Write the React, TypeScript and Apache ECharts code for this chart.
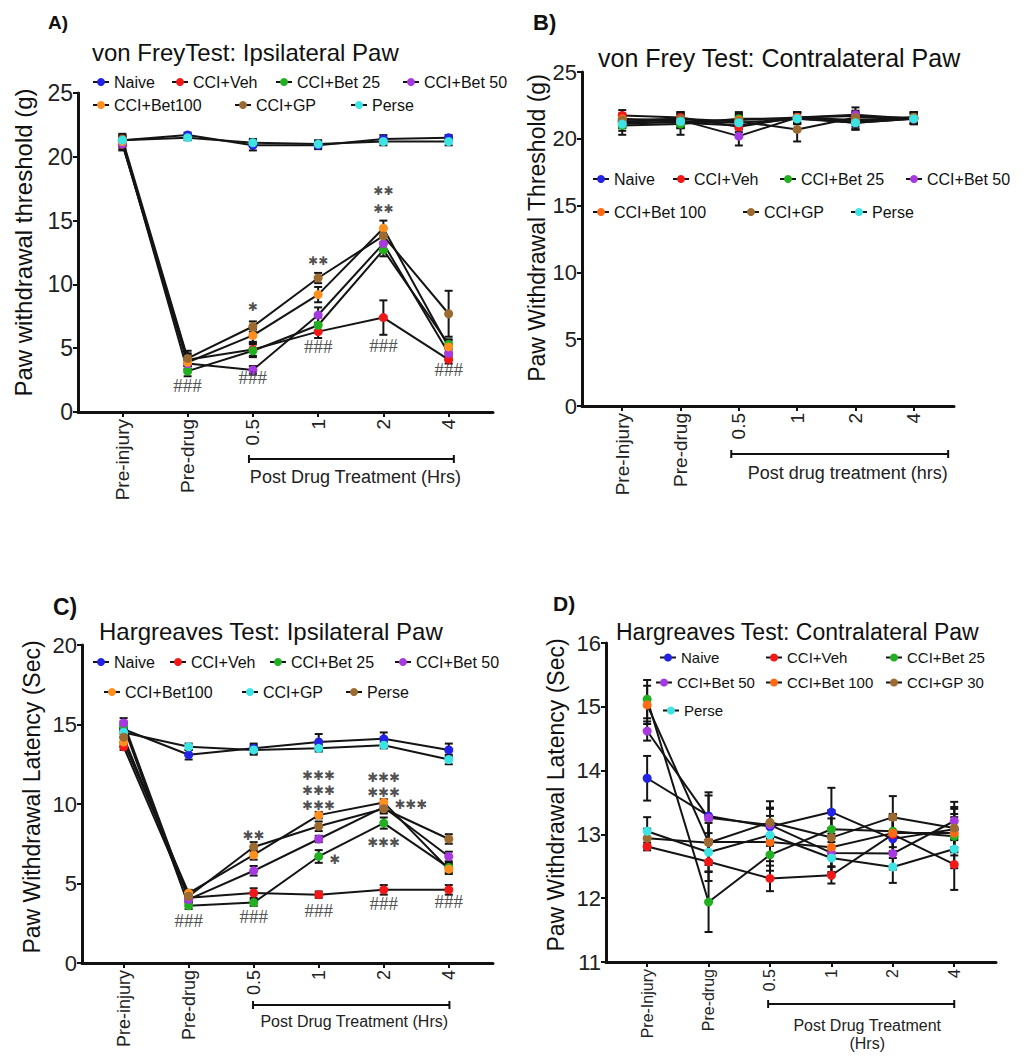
import React, { useEffect, useRef } from 'react';
import * as echarts from 'echarts';

const SANS = '"Liberation Sans", Arial, Helvetica, sans-serif';
const SERIF = '"Liberation Serif", "Times New Roman", serif';
const STAR_FONT = '"DejaVu Sans", sans-serif';

// ---------- categories / tick labels ----------
const X_LABELS_A = ['Pre-injury', 'Pre-drug', '0.5', '1', '2', '4'];
const X_LABELS_B = ['Pre-Injury', 'Pre-drug', '0.5', '1', '2', '4'];
const X_LABELS_C = ['Pre-injury', 'Pre-drug', '0.5', '1', '2', '4'];
const X_LABELS_D = ['Pre-Injury', 'Pre-drug', '0.5', '1', '2', '4'];
// time points are placed at positions 1..6 on the x axis
const X_POS = [1, 2, 3, 4, 5, 6];

// ---------- group names ----------
const NAMES_A = ['Naive', 'CCI+Veh', 'CCI+Bet 25', 'CCI+Bet 50', 'CCI+Bet100', 'CCI+GP', 'Perse'];
const NAMES_B = ['Naive', 'CCI+Veh', 'CCI+Bet 25', 'CCI+Bet 50', 'CCI+Bet 100', 'CCI+GP', 'Perse'];
const NAMES_C = ['Naive', 'CCI+Veh', 'CCI+Bet 25', 'CCI+Bet 50', 'CCI+Bet100', 'CCI+GP', 'Perse'];
const NAMES_D = ['Naive', 'CCI+Veh', 'CCI+Bet 25', 'CCI+Bet 50', 'CCI+Bet 100', 'CCI+GP 30', 'Perse'];

const BLUE = '#2323e6';
const RED = '#f21818';
const GREEN = '#22b022';
const PURPLE = '#a63ae0';
const ORANGE = '#ff8f1f';
const ORANGE_D = '#ff6a14';
const BROWN = '#9c6b32';
const CYAN = '#3ee3e3';

const COLORS_A = [BLUE, RED, GREEN, PURPLE, ORANGE, BROWN, CYAN];
const COLORS_B = [BLUE, RED, GREEN, PURPLE, ORANGE_D, BROWN, CYAN];
const COLORS_C = [BLUE, RED, GREEN, PURPLE, ORANGE, CYAN, BROWN];
const COLORS_D = [BLUE, RED, GREEN, PURPLE, ORANGE_D, BROWN, CYAN];

// ---------- A: von Frey ipsilateral ----------
const A_NAIVE = [21.3, 21.7, 20.9, 20.9, 21.4, 21.5];
const A_VEH = [21.0, 4.1, 4.9, 6.3, 7.4, 4.1];
const A_BET25 = [21.2, 3.2, 4.8, 6.8, 12.7, 5.3];
const A_BET50 = [21.0, 3.8, 3.3, 7.6, 13.2, 4.6];
const A_BET100 = [21.2, 3.9, 6.0, 9.2, 14.4, 5.1];
const A_GP = [21.4, 4.2, 6.7, 10.5, 13.8, 7.7];
const A_PERSE = [21.3, 21.5, 21.1, 21.0, 21.2, 21.2];
const A_ERR_NAIVE = [0.4, 0.2, 0.4, 0.3, 0.3, 0.2];
const A_ERR_VEH = [0.5, 0.5, 0.5, 0.5, 1.35, 0.3];
const A_ERR_BET25 = [0.4, 0.4, 0.5, 0.6, 0.5, 0.4];
const A_ERR_BET50 = [0.4, 0.4, 0.3, 0.6, 0.5, 0.4];
const A_ERR_BET100 = [0.4, 0.6, 0.5, 0.6, 0.6, 0.5];
const A_ERR_GP = [0.4, 0.6, 0.4, 0.4, 0.6, 1.8];
const A_ERR_PERSE = [0.3, 0.2, 0.3, 0.3, 0.3, 0.3];
// [time-point index (0 = Pre-injury), y (centre of the stack), text]
const A_STARS = [[2, 8.25, '✱'], [3, 11.8, '✱✱'], [4, 16.65, '✱✱\n✱✱']];
const A_HASHES = [[1, 2.05], [2, 2.7], [3, 5.1], [4, 5.25], [5, 3.3]];

// ---------- B: von Frey contralateral ----------
const B_NAIVE = [21.25, 21.2, 21.0, 21.55, 21.2, 21.5];
const B_VEH = [21.75, 21.6, 20.9, 21.6, 21.7, 21.5];
const B_BET25 = [21.0, 21.1, 21.5, 21.5, 21.3, 21.6];
const B_BET50 = [21.3, 21.4, 20.2, 21.6, 21.8, 21.5];
const B_BET100 = [21.5, 21.3, 21.4, 21.6, 21.4, 21.6];
const B_GP = [21.4, 21.5, 21.3, 20.7, 21.6, 21.6];
const B_PERSE = [21.1, 21.3, 21.2, 21.5, 21.2, 21.5];
const B_ERR_NAIVE = [0.4, 0.4, 0.5, 0.4, 0.5, 0.4];
const B_ERR_VEH = [0.4, 0.4, 0.6, 0.4, 0.4, 0.4];
const B_ERR_BET25 = [0.7, 0.8, 0.5, 0.4, 0.6, 0.4];
const B_ERR_BET50 = [0.5, 0.5, 0.7, 0.4, 0.55, 0.4];
const B_ERR_BET100 = [0.4, 0.5, 0.5, 0.4, 0.5, 0.4];
const B_ERR_GP = [0.4, 0.5, 0.5, 0.9, 0.4, 0.4];
const B_ERR_PERSE = [0.5, 0.5, 0.5, 0.4, 0.5, 0.4];

// ---------- C: Hargreaves ipsilateral ----------
const C_NAIVE = [14.7, 13.1, 13.5, 13.9, 14.1, 13.4];
const C_VEH = [13.6, 4.1, 4.4, 4.3, 4.6, 4.6];
const C_BET25 = [14.9, 3.6, 3.8, 6.7, 8.8, 6.0];
const C_BET50 = [15.1, 4.0, 5.8, 7.8, 9.8, 6.7];
const C_BET100 = [13.9, 4.4, 6.8, 9.3, 10.1, 5.9];
const C_GP = [14.5, 13.6, 13.4, 13.5, 13.7, 12.8];
const C_PERSE = [14.2, 4.2, 7.3, 8.6, 9.7, 7.8];
const C_ERR_NAIVE = [0.3, 0.3, 0.3, 0.5, 0.4, 0.4];
const C_ERR_VEH = [0.2, 0.2, 0.3, 0.2, 0.3, 0.3];
const C_ERR_BET25 = [0.3, 0.2, 0.2, 0.4, 0.35, 0.3];
const C_ERR_BET50 = [0.3, 0.2, 0.3, 0.2, 0.3, 0.3];
const C_ERR_BET100 = [0.3, 0.2, 0.3, 0.2, 0.2, 0.3];
const C_ERR_GP = [0.3, 0.2, 0.3, 0.2, 0.2, 0.3];
const C_ERR_PERSE = [0.3, 0.2, 0.3, 0.3, 0.3, 0.3];
const C_STARS = [
  [2, 8.05, '✱✱'], [3, 10.88, '✱✱✱\n✱✱✱\n✱✱✱'], [4, 11.22, '✱✱✱\n✱✱✱'],
  [4.42, 9.95, '✱✱✱'], [4, 7.6, '✱✱✱'], [3.25, 6.5, '✱'],
];
const C_HASHES = [[1, 2.7], [2, 2.9], [3, 3.33], [4, 3.77], [5, 3.84]];

// ---------- D: Hargreaves contralateral ----------
const D_NAIVE = [13.88, 13.29, 13.12, 13.35, 12.93, 13.08];
const D_VEH = [12.81, 12.57, 12.31, 12.36, 13.0, 12.53];
const D_BET25 = [15.12, 11.94, 12.68, 13.08, 13.05, 12.97];
const D_BET50 = [14.62, 13.26, 13.15, 12.71, 12.7, 13.21];
const D_BET100 = [15.03, 12.88, 12.88, 12.8, 13.02, 13.02];
const D_GP30 = [12.94, 12.87, 13.19, 12.95, 13.27, 13.1];
const D_PERSE = [13.05, 12.72, 12.99, 12.63, 12.49, 12.77];
const D_ERR_NAIVE = [0.35, 0.37, 0.3, 0.38, 0.3, 0.35];
const D_ERR_VEH = [0.06, 0.3, 0.2, 0.13, 0.3, 0.4];
const D_ERR_BET25 = [0.3, 0.47, 0.25, 0.3, 0.25, 0.3];
const D_ERR_BET50 = [0.15, 0.35, 0.25, 0.3, 0.25, 0.3];
const D_ERR_BET100 = [0.3, 0.3, 0.3, 0.3, 0.3, 0.3];
const D_ERR_GP30 = [0.15, 0.35, 0.33, 0.3, 0.33, 0.3];
const D_ERR_PERSE = [0.22, 0.3, 0.3, 0.25, 0.25, 0.3];

const PANELS = [
  {
    key: 'A', names: NAMES_A, colors: COLORS_A, xLabels: X_LABELS_A,
    means: [A_NAIVE, A_VEH, A_BET25, A_BET50, A_BET100, A_GP, A_PERSE],
    errs: [A_ERR_NAIVE, A_ERR_VEH, A_ERR_BET25, A_ERR_BET50, A_ERR_BET100, A_ERR_GP, A_ERR_PERSE],
    grid: { left: 78, top: 93, width: 415, height: 319 }, pad: [0.68, 0.68],
    yMin: 0, yMax: 25, yInt: 5, yLabelSize: 23, xLabelSize: 19,
    yName: 'Paw withdrawal threshold (g)', yNameSize: 24, yNameGap: 43, yNameShift: 20,
    legendFont: 16,
    legendPos: [[92, 74], [171, 74], [275, 74], [402, 74], [92, 97], [234, 97], [350, 97]],
    stars: A_STARS, hashes: A_HASHES, starSize: 12, starLine: 18, hashSize: 19,
    label: { text: 'A)', x: 48, y: 22, size: 19 },
    title: { text: 'von FreyTest: Ipsilateral Paw', x: 92, y: 52, size: 24 },
    bracket: { from: 2.94, to: 6.08, drop: 47, size: 18, texts: [{ t: 'Post Drug Treatment (Hrs)', dx: 4, dy: 18 }] },
  },
  {
    key: 'B', names: NAMES_B, colors: COLORS_B, xLabels: X_LABELS_B,
    means: [B_NAIVE, B_VEH, B_BET25, B_BET50, B_BET100, B_GP, B_PERSE],
    errs: [B_ERR_NAIVE, B_ERR_VEH, B_ERR_BET25, B_ERR_BET50, B_ERR_BET100, B_ERR_GP, B_ERR_PERSE],
    grid: { left: 582, top: 72, width: 372, height: 334 }, pad: [0.69, 0.69],
    yMin: 0, yMax: 25, yInt: 5, yLabelSize: 22, xLabelSize: 19,
    yName: 'Paw Withdrawal Threshold (g)', yNameSize: 23, yNameGap: 32, yNameShift: 22,
    legendFont: 16,
    legendPos: [[592, 171], [672, 171], [779, 171], [905, 171], [592, 204], [742, 204], [850, 204]],
    stars: [], hashes: [], starSize: 12, starLine: 18, hashSize: 19,
    label: { text: 'B)', x: 533, y: 22, size: 22 },
    title: { text: 'von Frey Test: Contralateral Paw', x: 598, y: 58, size: 25 },
    bracket: { from: 2.87, to: 6.59, drop: 48, size: 18, texts: [{ t: 'Post drug treatment (hrs)', dx: 8, dy: 19 }] },
  },
  {
    key: 'C', names: NAMES_C, colors: COLORS_C, xLabels: X_LABELS_C,
    means: [C_NAIVE, C_VEH, C_BET25, C_BET50, C_BET100, C_GP, C_PERSE],
    errs: [C_ERR_NAIVE, C_ERR_VEH, C_ERR_BET25, C_ERR_BET50, C_ERR_BET100, C_ERR_GP, C_ERR_PERSE],
    grid: { left: 82, top: 645, width: 411, height: 318 }, pad: [0.64, 0.68],
    yMin: 0, yMax: 20, yInt: 5, yLabelSize: 22, xLabelSize: 18,
    yName: 'Paw Withdrawal Latency (Sec)', yNameSize: 23, yNameGap: 39, yNameShift: 14,
    legendFont: 16,
    legendPos: [[92, 654], [169, 654], [269, 654], [394, 654], [103, 684], [241, 684], [345, 684]],
    stars: C_STARS, hashes: C_HASHES, starSize: 13, starLine: 15, hashSize: 19,
    label: { text: 'C)', x: 53, y: 607, size: 23 },
    title: { text: 'Hargreaves Test: Ipsilateral Paw', x: 99, y: 631, size: 24 },
    bracket: { from: 2.99, to: 6.01, drop: 42, size: 16, texts: [{ t: 'Post Drug Treatment (Hrs)', dx: 3, dy: 16 }] },
  },
  {
    key: 'D', names: NAMES_D, colors: COLORS_D, xLabels: X_LABELS_D,
    means: [D_NAIVE, D_VEH, D_BET25, D_BET50, D_BET100, D_GP30, D_PERSE],
    errs: [D_ERR_NAIVE, D_ERR_VEH, D_ERR_BET25, D_ERR_BET50, D_ERR_BET100, D_ERR_GP30, D_ERR_PERSE],
    grid: { left: 606, top: 643, width: 390, height: 319 }, pad: [0.67, 0.68],
    yMin: 11, yMax: 16, yInt: 1, yLabelSize: 22, xLabelSize: 16,
    yName: 'Paw Withdrawal Latency (Sec)', yNameSize: 23, yNameGap: 39, yNameShift: 15,
    legendFont: 15,
    legendPos: [[659, 650], [765, 650], [885, 650], [655, 675], [765, 675], [885, 675], [662, 703]],
    stars: [], hashes: [], starSize: 12, starLine: 18, hashSize: 19,
    label: { text: 'D)', x: 553, y: 603, size: 21 },
    title: { text: 'Hargreaves Test: Contralateral Paw', x: 616, y: 632, size: 23 },
    bracket: { from: 2.97, to: 6.0, drop: 42, size: 16, texts: [{ t: 'Post Drug Treatment', dx: 6, dy: 21 }, { t: '(Hrs)', dx: 6, dy: 39 }] },
  },
];

function makeBracketRender(b: any) {
  return (params: any, api: any) => {
    const a = api.coord([api.value(0), api.value(2)]);
    const c = api.coord([api.value(1), api.value(2)]);
    const y = a[1] + b.drop;
    const mid = (a[0] + c[0]) / 2;
    const children: any[] = [
      { type: 'line', shape: { x1: a[0], y1: y, x2: c[0], y2: y }, style: { stroke: '#111', lineWidth: 2 } },
      { type: 'line', shape: { x1: a[0], y1: y - 4, x2: a[0], y2: y + 4 }, style: { stroke: '#111', lineWidth: 2 } },
      { type: 'line', shape: { x1: c[0], y1: y - 4, x2: c[0], y2: y + 4 }, style: { stroke: '#111', lineWidth: 2 } },
    ];
    b.texts.forEach((t: any) => {
      children.push({
        type: 'text', x: mid + t.dx, y: y + t.dy,
        style: { text: t.t, fontSize: b.size, fontFamily: SANS, fill: '#222', align: 'center', verticalAlign: 'middle' },
      });
    });
    return { type: 'group', children };
  };
}

function headText(t: any, bold: boolean) {
  const lh = Math.round(t.size * 1.2);
  return {
    text: t.text, left: t.x, top: Math.round(t.y - lh / 2), padding: 0,
    textStyle: { fontSize: t.size, fontWeight: bold ? 'bold' : 'normal', fontFamily: SANS, color: '#111', lineHeight: lh },
  };
}

function buildPanelOption(p: any) {
  const x0 = X_POS[0];
  const xN = X_POS[X_POS.length - 1];
  const labels = p.xLabels;
  const series: any[] = [];
  const legend: any[] = [];

  p.names.forEach((n: string, g: number) => {
    // error bars: one short vertical segment per mean, with flat caps
    p.means[g].forEach((v: number, i: number) => {
      const e = p.errs[g][i];
      series.push({
        type: 'line', data: [[X_POS[i], v - e], [X_POS[i], v + e]],
        symbol: 'rect', symbolSize: [8, 2], silent: true, legendHoverLink: false,
        lineStyle: { color: '#141414', width: 2 }, itemStyle: { color: '#141414' }, z: 2,
      });
    });
  });
  p.names.forEach((n: string, g: number) => {
    series.push({
      type: 'line', name: n, data: p.means[g].map((v: number, i: number) => [X_POS[i], v]),
      symbol: 'circle', symbolSize: 9, silent: true,
      lineStyle: { color: '#141414', width: 2 }, itemStyle: { color: p.colors[g] }, z: 3,
    });
    legend.push({
      data: [n], left: p.legendPos[g][0], top: p.legendPos[g][1],
      padding: 0, itemWidth: 16, itemHeight: 10, selectedMode: false,
      textStyle: { fontSize: p.legendFont, fontFamily: SANS, color: '#111' },
    });
  });
  series.push({
    type: 'custom', renderItem: makeBracketRender(p.bracket), clip: false,
    data: [[p.bracket.from, p.bracket.to, p.yMin]], encode: { x: [0, 1], y: 2 }, z: 1, silent: true,
  });
  if (p.stars.length) {
    series.push({
      type: 'scatter', symbolSize: 0, silent: true, z: 5,
      data: p.stars.map((s: any) => ({ name: s[2], value: [s[0] + x0, s[1]] })),
      label: {
        show: true, position: 'inside', formatter: '{b}',
        fontSize: p.starSize, lineHeight: p.starLine, fontFamily: STAR_FONT, color: '#222',
      },
    });
  }
  if (p.hashes.length) {
    series.push({
      type: 'scatter', symbolSize: 0, silent: true, z: 5,
      data: p.hashes.map((h: any) => ({ name: '###', value: [h[0] + x0, h[1]] })),
      label: {
        show: true, position: 'inside', formatter: '{b}',
        fontSize: p.hashSize, fontFamily: SERIF, color: '#222',
      },
    });
  }

  return {
    animation: false,
    title: [headText(p.label, true), headText(p.title, false)],
    grid: { ...p.grid },
    xAxis: {
      type: 'value', min: x0 - p.pad[0], max: xN + p.pad[1],
      axisLine: { show: true, onZero: false, lineStyle: { color: '#111', width: 3 } },
      axisTick: { show: true, customValues: X_POS, length: 5, lineStyle: { color: '#111', width: 2 } },
      axisLabel: {
        show: true, customValues: X_POS, rotate: 90, margin: 7,
        formatter: (v: number) => labels[Math.round(v) - x0] ?? '',
        fontSize: p.xLabelSize, fontFamily: SANS, color: '#222',
      },
      splitLine: { show: false },
    },
    yAxis: {
      type: 'value', min: p.yMin, max: p.yMax, interval: p.yInt,
      name: p.yName, nameLocation: 'middle', nameGap: p.yNameGap,
      nameTextStyle: { fontSize: p.yNameSize, fontFamily: SANS, color: '#111', padding: [0, 0, 0, p.yNameShift] },
      axisLine: { show: true, onZero: false, lineStyle: { color: '#111', width: 3 } },
      axisTick: { show: true, length: 5, lineStyle: { color: '#111', width: 2 } },
      axisLabel: { fontSize: p.yLabelSize, fontFamily: SANS, color: '#222', margin: 5 },
      splitLine: { show: false },
    },
    legend,
    series,
  };
}

function Panel({ panel }: { panel: any }) {
  const ref = useRef<HTMLDivElement>(null);
  useEffect(() => {
    if (!ref.current) return;
    const chart = echarts.init(ref.current, null, { renderer: 'svg' });
    chart.setOption(buildPanelOption(panel) as any);
    return () => chart.dispose();
  }, [panel]);
  return <div ref={ref} style={{ position: 'absolute', left: 0, top: 0, width: 1034, height: 1056 }} />;
}

export default function App() {
  useEffect(() => {
    document.body.style.margin = '0';
    document.body.style.background = '#ffffff';
  }, []);
  return (
    <div style={{ position: 'relative', width: 1034, height: 1056, background: '#ffffff' }}>
      {PANELS.map((p) => (
        <Panel key={p.key} panel={p} />
      ))}
    </div>
  );
}
